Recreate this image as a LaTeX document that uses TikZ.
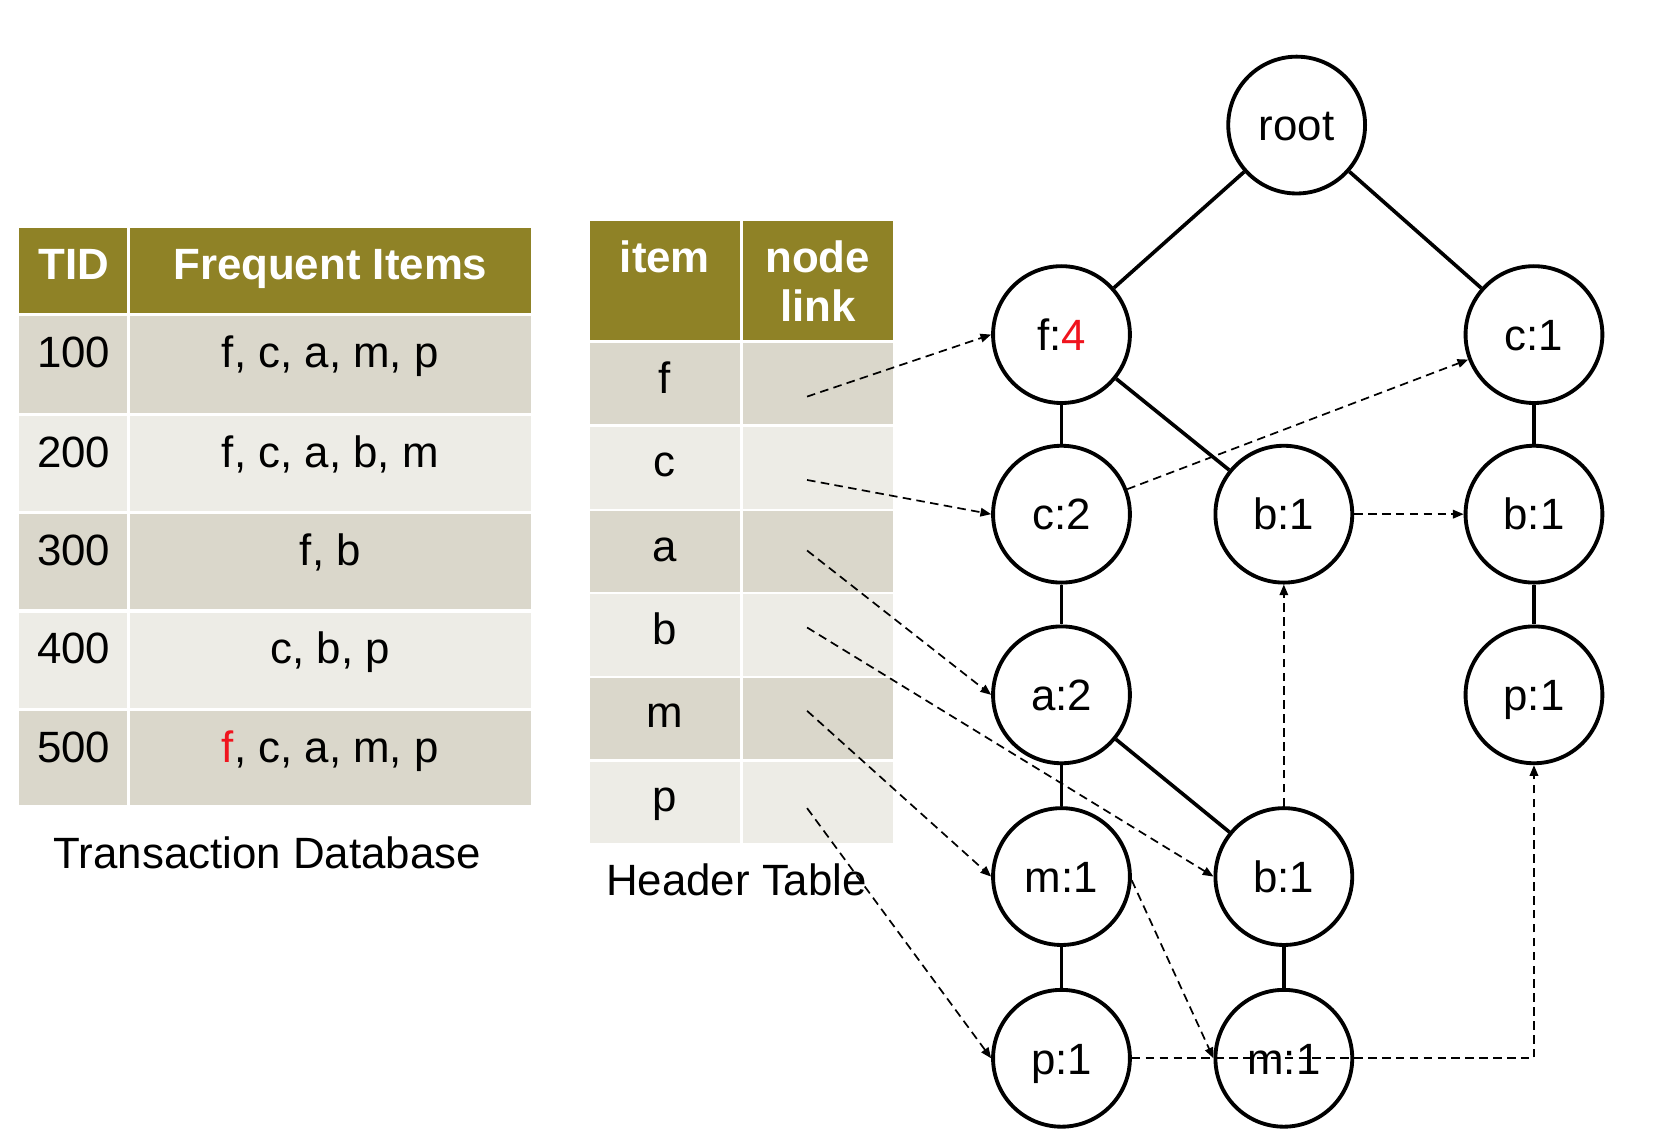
\documentclass[tikz,border=0pt]{standalone}
\usepackage{fontspec}
\setmainfont{Liberation Sans}
\usetikzlibrary{arrows.meta}
\definecolor{hdrcol}{HTML}{8F8226}
\definecolor{rowdark}{HTML}{DAD7CB}
\definecolor{rowlight}{HTML}{EDECE6}
\definecolor{txtred}{HTML}{F0141E}
\begin{document}
\begin{tikzpicture}[x=1pt,y=-1pt,
  every node/.style={font=\fontsize{41}{49}\selectfont, inner sep=0pt},
  celltext/.style={anchor=base},
  hdrtext/.style={anchor=base, text=white, font=\fontsize{41}{49}\selectfont\bfseries},
  tn/.style={circle, draw=black, fill=white, line width=3.6pt, minimum size=128pt,
             text height=33pt, text depth=3.5pt},
  treeedge/.style={line width=3.4pt},
  linkarrow/.style={line width=1.6pt, dash pattern=on 8pt off 5pt,
             -{Triangle[length=10pt,width=8pt]}}
]
\useasboundingbox (0,0) rectangle (1566,1065);

% ---------- Transaction Database table ----------
\fill[hdrcol] (18,213) rectangle (119,293);
\fill[hdrcol] (122,213) rectangle (497,293);
\fill[rowdark]  (18,296) rectangle (119,386);  \fill[rowdark]  (122,296) rectangle (497,386);
\fill[rowlight] (18,389) rectangle (119,478);  \fill[rowlight] (122,389) rectangle (497,478);
\fill[rowdark]  (18,481) rectangle (119,570);  \fill[rowdark]  (122,481) rectangle (497,570);
\fill[rowlight] (18,573) rectangle (119,662);  \fill[rowlight] (122,573) rectangle (497,662);
\fill[rowdark]  (18,665) rectangle (119,753);  \fill[rowdark]  (122,665) rectangle (497,753);

\node[hdrtext] (tidh) at (69,261) {TID};
\node[hdrtext] (fih) at (309,261) {Frequent Items};
\node[celltext] (t1) at (69,344) {100};
\node[celltext] (i1) at (309,344) {f, c, a, m, p};
\node[celltext] (t2) at (69,437) {200};
\node[celltext] (i2) at (309,437) {f, c, a, b, m};
\node[celltext] (t3) at (69,529) {300};
\node[celltext] (i3) at (309,529) {f, b};
\node[celltext] (t4) at (69,621) {400};
\node[celltext] (i4) at (309,621) {c, b, p};
\node[celltext] (t5) at (69,713) {500};
\node[celltext] (i5) at (309,713) {\textcolor{txtred}{f}, c, a, m, p};
\node[celltext] (cap1) at (250,812) {Transaction Database};

% ---------- Header table ----------
\fill[hdrcol] (552,207) rectangle (692,318);
\fill[hdrcol] (695,207) rectangle (835,318);
\fill[rowdark]  (552,321) rectangle (692,397); \fill[rowdark]  (695,321) rectangle (835,397);
\fill[rowlight] (552,399) rectangle (692,476); \fill[rowlight] (695,399) rectangle (835,476);
\fill[rowdark]  (552,478) rectangle (692,554); \fill[rowdark]  (695,478) rectangle (835,554);
\fill[rowlight] (552,556) rectangle (692,632); \fill[rowlight] (695,556) rectangle (835,632);
\fill[rowdark]  (552,634) rectangle (692,710); \fill[rowdark]  (695,634) rectangle (835,710);
\fill[rowlight] (552,713) rectangle (692,789); \fill[rowlight] (695,713) rectangle (835,789);

\node[hdrtext] (itemh) at (622,255) {item};
\node[hdrtext] (nodeh) at (765,255) {node};
\node[hdrtext] (linkh) at (765,301) {link};
\node[celltext] (hf) at (622,368) {f};
\node[celltext] (hc) at (622,446) {c};
\node[celltext] (ha) at (622,525) {a};
\node[celltext] (hb) at (622,603) {b};
\node[celltext] (hm) at (622,681) {m};
\node[celltext] (hp) at (622,759) {p};
\node[celltext] (cap2) at (689,838) {Header Table};

\coordinate (lf) at (755,371);
\coordinate (lc) at (755,449);
\coordinate (la) at (755,515);
\coordinate (lb) at (755,587);
\coordinate (lm) at (755,665);
\coordinate (lp) at (755,756);

% ---------- FP-tree ----------
\node[tn] (root) at (1213,117) {root};
\node[tn] (f4)   at (993,313)  {f:\textcolor{txtred}{4}};
\node[tn] (c1)   at (1435,313) {c:1};
\node[tn] (c2)   at (993,481)  {c:2};
\node[tn] (b1)   at (1201,481) {b:1};
\node[tn] (b1r)  at (1435,481) {b:1};
\node[tn] (a2)   at (993,650)  {a:2};
\node[tn] (p1r)  at (1435,650) {p:1};
\node[tn] (m1)   at (993,820)  {m:1};
\node[tn] (b1l)  at (1201,820) {b:1};
\node[tn] (p1)   at (993,990)  {p:1};
\node[tn] (m1l)  at (1201,990) {m:1};

\draw[treeedge] (root) -- (f4);
\draw[treeedge] (root) -- (c1);
\draw[treeedge] (f4) -- (c2);
\draw[treeedge] (f4) -- (b1);
\draw[treeedge] (c2) -- (a2);
\draw[treeedge] (a2) -- (m1);
\draw[treeedge] (a2) -- (b1l);
\draw[treeedge] (m1) -- (p1);
\draw[treeedge] (b1l) -- (m1l);
\draw[treeedge] (c1) -- (b1r);
\draw[treeedge] (b1r) -- (p1r);

% ---------- node links ----------
\draw[linkarrow] (lf) -- (f4.west);
\draw[linkarrow] (lc) -- (c2.west);
\draw[linkarrow] (la) -- (a2.west);
\draw[linkarrow] (lb) -- (b1l.west);
\draw[linkarrow] (lm) -- (m1.west);
\draw[linkarrow] (lp) -- (p1.west);
\draw[linkarrow] (c2) -- (c1);
\draw[linkarrow] (b1.east) -- (b1r.west);
\draw[linkarrow] (b1l.north) -- (b1.south);
\draw[linkarrow] (m1.357) -- (m1l.west);
\draw[linkarrow] (p1.east) -- (p1r |- p1.east) -- (p1r.south);
\end{tikzpicture}
\end{document}
